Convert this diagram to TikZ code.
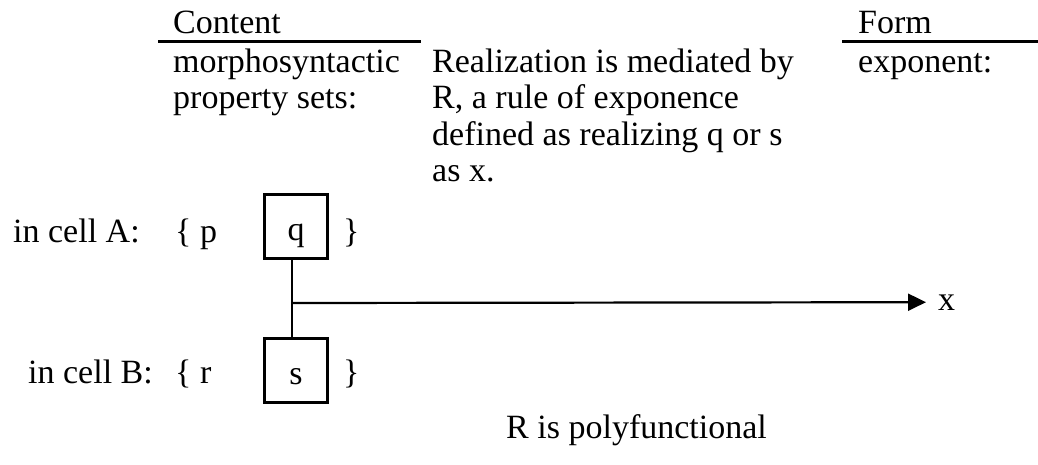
\documentclass[tikz,border=0pt]{standalone}
\usepackage{fontspec}
\setmainfont{Liberation Serif}
\usetikzlibrary{arrows.meta}

\tikzset{
  txt/.style={anchor=base west, inner sep=0pt, align=left},
  cellbox/.style={draw, line width=3pt, minimum width=63pt, minimum height=64pt,
    text height=28pt, text depth=0pt, inner sep=0pt},
  headrule/.style={line width=2.7pt},
  link/.style={line width=2.2pt},
}

\begin{document}
\begin{tikzpicture}[x=1pt, y=-1pt, font=\fontsize{34}{36.5}\selectfont]
    \useasboundingbox (0,0) rectangle (1038,464);

    % Column headings
    \node[txt] (content) at (173,33) {Content};
    \node[txt] (form) at (858,33) {Form};
    \draw[headrule] (158,41.5) -- (421,41.5);
    \draw[headrule] (842,41.5) -- (1038,41.5);

    % Column texts (placed at the baseline of their last line)
    \node[txt] (props) at (173,108.5) {morphosyntactic\\property sets:};
    \node[txt] (rule) at (432,181.5) {Realization is mediated by\\R, a rule of exponence\\defined as realizing q or s\\as x.};
    \node[txt] (expo) at (858,72) {exponent:};

    % Cell A
    \node[txt] (cellA) at (13,242) {in cell A:};
    \node[txt] (openA) at (175,242) {\{ p};
    \node[cellbox] (q) at (296,226.5) {q};
    \node[txt] (closeA) at (343,242) {\}};

    % Cell B
    \node[txt] (cellB) at (28,383) {in cell B:};
    \node[txt] (openB) at (175,383) {\{ r};
    \node[cellbox] (s) at (296,370.5) {s};
    \node[txt] (closeB) at (343,383) {\}};

    % Rule of exponence
    \coordinate (junc) at (292,303);
    \draw[link] (junc |- q.south) -- (junc |- s.north);
    \node[txt, inner xsep=12pt] (x) at (926,310) {x};
    \draw[link, -{Triangle[length=18pt,width=17pt]}] (junc) -- (x.west);

    \node[txt] (poly) at (506,438) {R is polyfunctional};

\end{tikzpicture}
\end{document}
